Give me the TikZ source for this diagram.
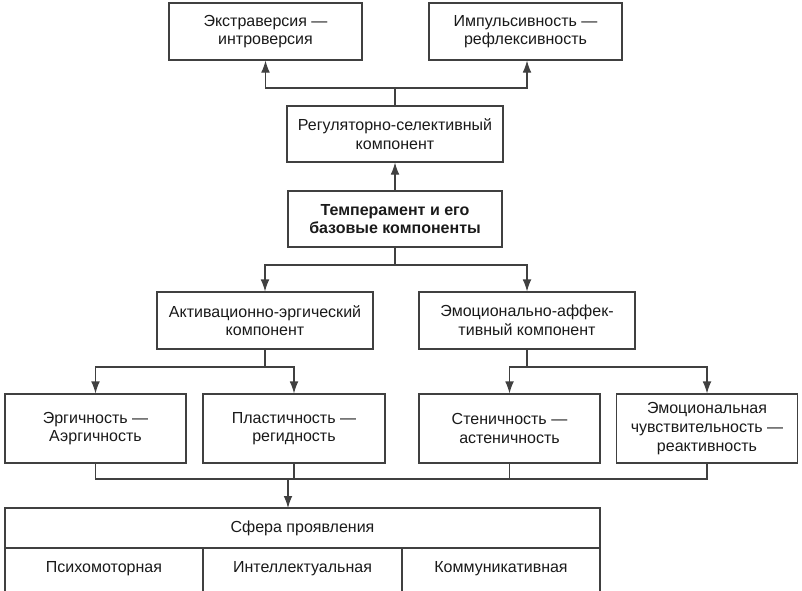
\documentclass[tikz,border=0pt]{standalone}
\usepackage{fontspec}
\setmainfont{Liberation Sans}
\usetikzlibrary{arrows.meta}
\definecolor{ln}{HTML}{404040}
\definecolor{tx}{HTML}{1A1A1A}
\begin{document}
\begin{tikzpicture}[x=0.75pt,y=-0.75pt,
  box/.style={draw=ln,line width=0.8pt,fill=white,text=tx,align=center,inner sep=0pt,
    font=\fontsize{12}{14}\selectfont},
  lbl/.style={text=tx,font=\fontsize{12}{14}\selectfont},
  conn/.style={draw=ln,line width=0.8pt},
  arr/.style={conn,-{Latex[length=9pt,width=6.5pt]}}]
\useasboundingbox (0,0) rectangle (802,590);
% top
\node[box,minimum width=193*0.75pt,minimum height=57*0.75pt] (ext) at (265.5,31.5) {Экстраверсия —\\интроверсия};
\node[box,minimum width=193*0.75pt,minimum height=57*0.75pt] (imp) at (525.5,31.5) {Импульсивность —\\рефлексивность};
\node[box,minimum width=216*0.75pt,minimum height=56*0.75pt] (reg) at (395,134) {Регуляторно-селективный\\компонент};
\node[box,minimum width=214*0.75pt,minimum height=56*0.75pt,font=\bfseries\fontsize{12}{14}\selectfont] (tem) at (395,219) {Темперамент и его\\базовые компоненты};
\node[box,minimum width=216*0.75pt,minimum height=57*0.75pt] (act) at (265,320.5) {Активационно-эргический\\компонент};
\node[box,minimum width=216*0.75pt,minimum height=57*0.75pt] (emo) at (527,320.5) {Эмоционально-аффек-\\тивный компонент};
\node[box,minimum width=181*0.75pt,minimum height=69*0.75pt] (erg) at (95.5,428.5) {Эргичность —\\Аэргичность};
\node[box,minimum width=182*0.75pt,minimum height=69*0.75pt] (pla) at (294,428.5) {Пластичность —\\регидность};
\node[box,minimum width=181*0.75pt,minimum height=69*0.75pt] (ste) at (509.5,428.5) {Стеничность —\\астеничность};
\node[box,minimum width=181*0.75pt,minimum height=69*0.75pt] (emc) at (707,428.5) {Эмоциональная\\чувствительность —\\реактивность};
% coordinates
\coordinate (j1) at (395,88);
\coordinate (j2) at (395,265);
\coordinate (j3) at (265,367);
\coordinate (j4) at (527,367);
\coordinate (j5) at (288,479);
% connectors
\draw[conn] (reg.north) -- (j1);
\draw[arr] (j1) -| (ext.south);
\draw[arr] (j1) -| (imp.south -| 527,0);
\draw[arr] (tem.north) -- (reg.south);
\draw[conn] (tem.south) -- (j2);
\draw[arr] (j2) -| (act.north);
\draw[arr] (j2) -| (emo.north);
\draw[conn] (act.south) -- (j3);
\draw[arr] (j3) -| (erg.north);
\draw[arr] (j3) -| (pla.north);
\draw[conn] (emo.south) -- (j4);
\draw[arr] (j4) -| (ste.north);
\draw[arr] (j4) -| (emc.north);
\draw[conn] (erg.south) |- (j5);
\draw[conn] (pla.south) |- (j5);
\draw[conn] (ste.south) |- (j5);
\draw[conn] (emc.south) |- (j5);
% table
\coordinate (tl) at (5,508);
\coordinate (tr) at (600,508);
\coordinate (ml) at (5,548);
\coordinate (mr) at (600,548);
\coordinate (bl) at (5,591);
\coordinate (br) at (600,591);
\coordinate (d1t) at (203,548);
\coordinate (d1b) at (203,591);
\coordinate (d2t) at (402,548);
\coordinate (d2b) at (402,591);
\draw[conn] (bl) -- (tl) -- (tr) -- (br);
\draw[conn] (ml) -- (mr);
\draw[conn] (d1t) -- (d1b);
\draw[conn] (d2t) -- (d2b);
\node[lbl] (sf) at (302.5,528) {Сфера проявления};
\node[lbl] (ps) at (104,569) {Психомоторная};
\node[lbl] (in) at (302.5,569) {Интеллектуальная};
\node[lbl] (ko) at (501,569) {Коммуникативная};
\draw[arr] (j5) -- (tl -| j5);
\end{tikzpicture}
\end{document}
